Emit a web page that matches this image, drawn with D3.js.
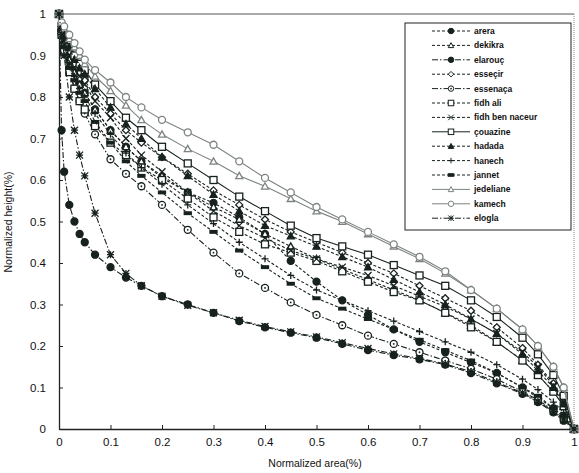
<!DOCTYPE html>
<html><head><meta charset="utf-8">
<script src="https://cdn.jsdelivr.net/npm/d3@7"></script>
<style>body{margin:0;background:#fff;} svg{display:block;}</style>
</head><body>
<svg id="c" width="579" height="473"></svg>
<script>
// ---- data ----
const xs = [0, .005, .01, .02, .03, .04, .05, .07, .1, .13, .16, .2, .25, .3, .35, .4, .45, .5, .55, .6, .65, .7, .75, .8, .85, .9, .93, .96, .98, 1];
const names = ["arera","dekikra","elarouç","esseçir","essenaça","fidh ali","fidh ben naceur","çouazine","hadada","hanech","jannet","jedeliane","kamech","elogla"];
const arera   = [1,.96,.93,.89,.86,.83,.81,.77,.72,.68,.645,.605,.57,.545,.51,.47,.405,.355,.31,.275,.24,.21,.185,.16,.135,.1,.075,.05,.03,0];
const dekikra = [1,.96,.93,.89,.86,.83,.81,.77,.72,.68,.645,.61,.57,.535,.505,.47,.44,.41,.385,.36,.335,.31,.28,.25,.21,.165,.13,.09,.055,0];
const elarouc = [1,.72,.62,.54,.5,.47,.45,.42,.39,.365,.345,.32,.3,.28,.26,.245,.232,.22,.205,.19,.178,.168,.155,.135,.11,.085,.065,.04,.02,0];
const essecir = [1,.97,.94,.91,.88,.86,.84,.8,.76,.72,.69,.655,.615,.575,.54,.505,.475,.45,.425,.4,.375,.345,.315,.285,.245,.195,.155,.11,.07,0];
const essenaca= [1,.95,.91,.87,.82,.79,.76,.71,.65,.615,.585,.54,.48,.425,.375,.34,.305,.275,.25,.225,.205,.185,.165,.145,.12,.09,.07,.045,.025,0];
const fidhAli = [1,.95,.91,.86,.82,.79,.77,.73,.69,.66,.63,.6,.555,.51,.475,.445,.425,.405,.38,.355,.33,.31,.28,.245,.21,.165,.13,.09,.055,0];
const fidhBen = [1,.97,.94,.9,.87,.85,.83,.79,.75,.7,.66,.62,.57,.525,.49,.46,.43,.41,.39,.37,.345,.32,.295,.265,.23,.185,.15,.105,.065,0];
const gouazine= [1,.97,.95,.92,.9,.88,.865,.83,.79,.75,.72,.68,.64,.6,.56,.525,.49,.46,.44,.42,.395,.37,.345,.31,.27,.22,.18,.13,.08,0];
const hadada  = [1,.97,.95,.92,.89,.87,.855,.82,.775,.735,.7,.655,.61,.565,.525,.49,.465,.44,.415,.39,.36,.33,.3,.265,.23,.18,.14,.1,.06,0];
const hanech  = [1,.96,.93,.88,.85,.82,.8,.76,.71,.665,.63,.59,.54,.495,.45,.41,.37,.335,.31,.285,.26,.235,.21,.185,.155,.12,.095,.065,.04,0];
const jannet  = [1,.96,.92,.87,.84,.81,.79,.74,.69,.645,.61,.57,.52,.475,.43,.39,.35,.315,.29,.265,.24,.215,.19,.165,.135,.1,.08,.05,.03,0];
const jedeliane=[1,.98,.965,.94,.92,.9,.88,.85,.815,.78,.745,.71,.675,.645,.61,.585,.555,.525,.5,.47,.44,.41,.375,.335,.29,.24,.2,.15,.1,0];
const kamech  = [1,.98,.97,.95,.93,.91,.89,.865,.835,.8,.775,.745,.715,.685,.645,.605,.57,.535,.505,.475,.445,.415,.38,.335,.29,.24,.2,.15,.1,0];
const elogla  = [1,.95,.9,.8,.72,.66,.61,.52,.42,.375,.345,.32,.298,.28,.262,.247,.234,.222,.208,.194,.181,.17,.157,.138,.113,.087,.067,.042,.022,0];
const seriesValues = [arera,dekikra,elarouc,essecir,essenaca,fidhAli,fidhBen,gouazine,hadada,hanech,jannet,jedeliane,kamech,elogla];
const xTicks = [0,0.1,0.2,0.3,0.4,0.5,0.6,0.7,0.8,0.9,1];
const yTicks = [0,0.1,0.2,0.3,0.4,0.5,0.6,0.7,0.8,0.9,1];

// ---- styles ----
const DARK = "#17221d", GRAY = "#7d8480";
const styles = [
  {m:"circle", fill:true,  dash:"3,2", c:DARK},
  {m:"triangle", fill:false, dash:"3,2", c:DARK},
  {m:"circle", fill:true,  dash:"6,2,1.5,2", c:DARK},
  {m:"diamond", fill:false, dash:"3,2", c:DARK},
  {m:"circledot", fill:false, dash:"6,2,1.5,2", c:DARK},
  {m:"square", fill:false, dash:"3,2", c:DARK},
  {m:"x", fill:false, dash:"3,2", c:DARK},
  {m:"square", fill:false, dash:null, c:DARK},
  {m:"triangle", fill:true, dash:"3,2", c:DARK},
  {m:"plus", fill:false, dash:"3,2", c:DARK},
  {m:"bar", fill:true, dash:"3,2", c:DARK},
  {m:"triangle", fill:false, dash:null, c:GRAY},
  {m:"circle", fill:false, dash:null, c:GRAY},
  {m:"asterisk", fill:false, dash:"6,2,1.5,2", c:DARK}
];

const svg = d3.select("#c");
const x = d3.scaleLinear().domain([0,1]).range([59,574]);
const y = d3.scaleLinear().domain([0,1]).range([429,14]);

// frame: top solid, right dotted
svg.append("line").attr("x1",x(0)).attr("x2",x(1)).attr("y1",y(1)).attr("y2",y(1)).attr("stroke","#555").attr("stroke-width",1);
svg.append("line").attr("x1",x(1)).attr("x2",x(1)).attr("y1",y(1)).attr("y2",y(0)).attr("stroke","#888").attr("stroke-width",1).attr("stroke-dasharray","1,1");

// axes
const font = "'Liberation Sans', Arial, sans-serif";
const xAxis = svg.append("g").attr("transform",`translate(0,${y(0)})`)
  .call(d3.axisBottom(x).tickValues(xTicks).tickSizeInner(-4).tickSizeOuter(0).tickPadding(9).tickFormat(d3.format("")));
const yAxis = svg.append("g").attr("transform",`translate(${x(0)},0)`)
  .call(d3.axisLeft(y).tickValues(yTicks).tickSizeInner(-4).tickSizeOuter(0).tickPadding(13).tickFormat(d3.format("")));
[xAxis,yAxis].forEach(g=>{
  g.select(".domain").attr("stroke","#222").attr("stroke-width",1.3);
  g.selectAll(".tick line").attr("stroke","#222");
  g.selectAll("text").attr("font-family",font).attr("font-size",11.5).attr("fill","#111");
});

svg.append("text").attr("x",315).attr("y",467).attr("text-anchor","middle")
  .attr("font-family",font).attr("font-size",10.5).attr("fill","#111").text("Normalized area(%)");
svg.append("text").attr("transform","translate(12,222) rotate(-90)").attr("text-anchor","middle")
  .attr("font-family",font).attr("font-size",10.5).attr("fill","#111").text("Normalized height(%)");

// marker drawing
function drawMarker(g, type, cx, cy, st, s, sw) {
  const h = s/2;
  const fillC = st.fill ? st.c : "#fff";
  let el;
  switch(type){
    case "circle": el = g.append("circle").attr("cx",cx).attr("cy",cy).attr("r",h); break;
    case "circledot":
      el = g.append("circle").attr("cx",cx).attr("cy",cy).attr("r",h);
      el.attr("fill",fillC).attr("stroke",st.c).attr("stroke-width",sw);
      g.append("circle").attr("cx",cx).attr("cy",cy).attr("r",0.9).attr("fill",st.c);
      return;
    case "triangle": el = g.append("path").attr("d",`M${cx},${cy-h}L${cx+h},${cy+h*0.8}L${cx-h},${cy+h*0.8}Z`); break;
    case "diamond": el = g.append("path").attr("d",`M${cx},${cy-h}L${cx+h},${cy}L${cx},${cy+h}L${cx-h},${cy}Z`); break;
    case "square": el = g.append("rect").attr("x",cx-h).attr("y",cy-h).attr("width",s).attr("height",s); break;
    case "bar": el = g.append("rect").attr("x",cx-h).attr("y",cy-1.3).attr("width",s).attr("height",2.6); break;
    case "x": el = g.append("path").attr("d",`M${cx-h},${cy-h}L${cx+h},${cy+h}M${cx-h},${cy+h}L${cx+h},${cy-h}`); break;
    case "plus": el = g.append("path").attr("d",`M${cx-h},${cy}L${cx+h},${cy}M${cx},${cy-h}L${cx},${cy+h}`); break;
    case "asterisk": el = g.append("path").attr("d",`M${cx-h},${cy-h}L${cx+h},${cy+h}M${cx-h},${cy+h}L${cx+h},${cy-h}M${cx},${cy-h}L${cx},${cy+h}M${cx-h},${cy}L${cx+h},${cy}`); break;
  }
  el.attr("fill", (type==="x"||type==="plus"||type==="asterisk") ? "none" : fillC)
    .attr("stroke", st.c).attr("stroke-width", sw);
}

// series
const line = d3.line().x(d=>x(d[0])).y(d=>y(d[1]));
const plot = svg.append("g");
seriesValues.forEach((vals,i)=>{
  const st = styles[i];
  const pts = xs.map((xv,j)=>[xv, vals[j]]);
  const g = plot.append("g");
  g.append("path").attr("d",line(pts)).attr("fill","none").attr("stroke",st.c).attr("stroke-width",1.1)
    .attr("stroke-dasharray",st.dash);
  pts.forEach(p=>drawMarker(g, st.m, x(p[0]), y(p[1]), st, 7, 1.3));
});

// legend
const lg = svg.append("g");
lg.append("rect").attr("x",405).attr("y",23).attr("width",166).attr("height",207)
  .attr("fill","#fff").attr("stroke","#222").attr("stroke-width",1);
names.forEach((n,i)=>{
  const st = styles[i];
  const yy = 31 + i*14.4;
  const row = lg.append("g");
  row.append("line").attr("x1",432).attr("x2",470).attr("y1",yy).attr("y2",yy)
    .attr("stroke",st.c).attr("stroke-width",1).attr("stroke-dasharray",st.dash);
  drawMarker(row, st.m, 451, yy, st, 5.5, 1);
  row.append("text").attr("x",474).attr("y",yy+3).attr("font-family",font).attr("font-size",8.5)
    .attr("font-weight","bold").attr("fill","#111").text(n);
});
</script>
</body></html>
